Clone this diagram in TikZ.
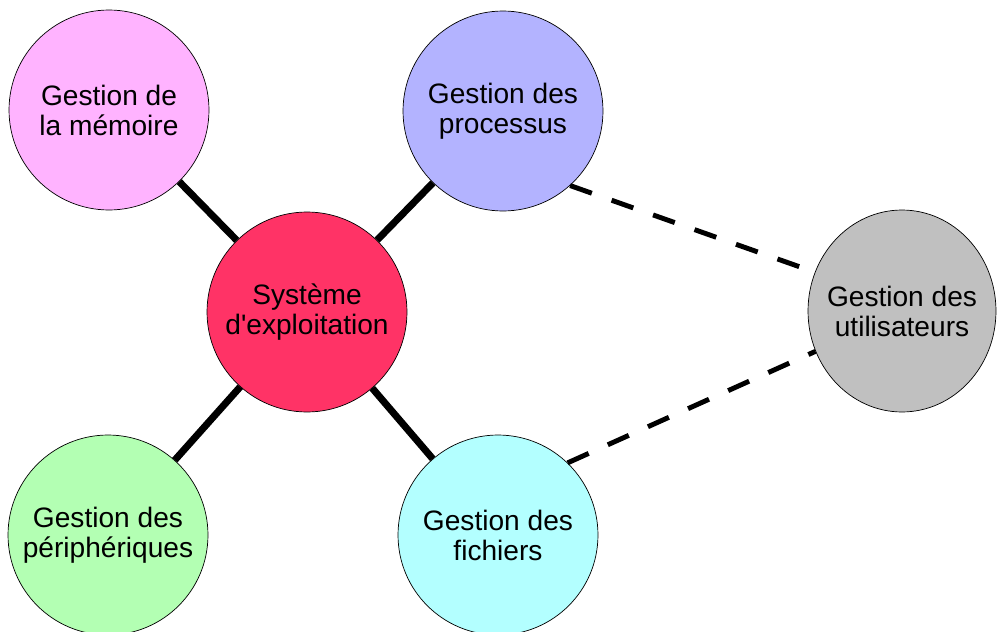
\documentclass[tikz,border=0pt]{standalone}
\usepackage{fontspec}
\setmainfont{Liberation Sans}
\usetikzlibrary{shapes.geometric}

\definecolor{memoire}{HTML}{FFB3FF}
\definecolor{processus}{HTML}{B3B3FF}
\definecolor{systeme}{HTML}{FF3366}
\definecolor{peripheriques}{HTML}{B3FFB3}
\definecolor{fichiers}{HTML}{B3FFFF}
\definecolor{utilisateurs}{HTML}{C0C0C0}

\begin{document}
\begin{tikzpicture}[x=0.02cm, y=-0.02cm,
    bubble/.style={circle, draw=black, line width=0.4pt, minimum size=4cm, inner sep=0pt, align=center, font=\fontsize{16}{17.1}\selectfont},
    link/.style={line width=4pt},
    weaklink/.style={line width=2.8pt, dash pattern=on 0.46cm off 0.42cm}]
\useasboundingbox (0,0) rectangle (998,632);

% Central node
\node[bubble, fill=systeme] (sys) at (307,312) {Syst\`eme\\d\textquotesingle exploitation};

% The four parts around it
\node[bubble, fill=memoire] (mem) at (109,110) {Gestion de\\la m\'emoire};
\node[bubble, fill=processus] (proc) at (503,111) {Gestion des\\processus};
\node[bubble, fill=peripheriques] (peri) at (108,535) {Gestion des\\p\'eriph\'eriques};
\node[bubble, fill=fichiers] (fich) at (498,535) {Gestion des\\fichiers};

% Users, on the right (a bit narrower than tall)
\node[bubble, ellipse, inner xsep=-0.8cm, minimum width=3.76cm, minimum height=4.04cm, fill=utilisateurs] (util) at (902,311) {Gestion des\\utilisateurs};

% Solid links
\draw[link] (mem) -- (sys);
\draw[link] (proc) -- (sys);
\draw[link] (peri) -- (sys);
\draw[link] (fich) -- (sys);

% Dashed links
\draw[weaklink] (proc.-48.5) -- (util.156);
\draw[weaklink] (fich.46.5) -- (util.205);

\end{tikzpicture}
\end{document}
